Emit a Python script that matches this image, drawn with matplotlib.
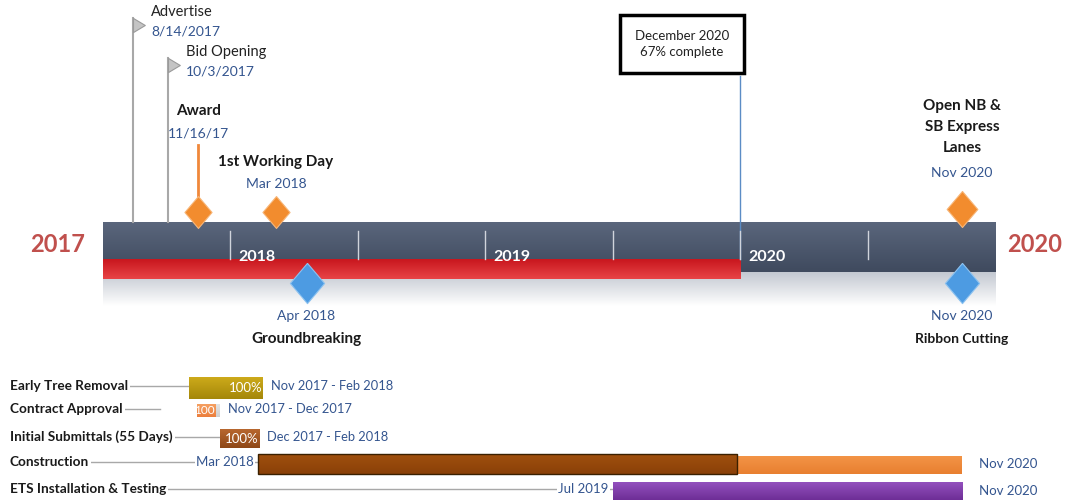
import matplotlib
matplotlib.use("Agg")
import matplotlib.pyplot as plt
import numpy as np
from matplotlib.patches import Rectangle
from matplotlib.colors import LinearSegmentedColormap

plt.rcParams['font.family'] = ['Lato', 'DejaVu Sans']

# ---- data (decimal years) ----
bar_start = 2017.5
bar_end = 2021.0
progress_date = 2020.0
half_year_ticks = [2018.0, 2018.5, 2019.0, 2019.5, 2020.0, 2020.5]
year_labels = ["2018", "2019", "2020"]
year_label_dates = [2018.0, 2019.0, 2020.0]
end_labels = ["2017", "2020"]

flag_names = ["Advertise", "Bid Opening"]
flag_dates = [2017.62, 2017.755]
flag_texts = ["8/14/2017", "10/3/2017"]

top_names = ["Award", "1st Working Day", "Open NB &\nSB Express\nLanes"]
top_dates = [2017.875, 2018.18, 2020.87]
top_texts = ["11/16/17", "Mar 2018", "Nov 2020"]

bottom_names = ["Groundbreaking", "Ribbon Cutting"]
bottom_dates = [2018.30, 2020.87]
bottom_texts = ["Apr 2018", "Nov 2020"]

status_lines = "December 2020\n67% complete"

tasks = ["Early Tree Removal", "Contract Approval", "Initial Submittals (55 Days)",
         "Construction", "ETS Installation & Testing"]
task_start = [2017.84, 2017.87, 2017.96, 2018.11, 2019.50]
task_done = [2018.13, 2017.945, 2018.115, 2019.99, 2019.50]
task_end = [2018.13, 2017.96, 2018.115, 2020.87, 2020.87]
task_pct = ["100%", "100", "100%", "", ""]
task_range = ["Nov 2017 - Feb 2018", "Nov 2017 - Dec 2017", "Dec 2017 - Feb 2018", "", ""]
task_from = ["", "", "", "Mar 2018", "Jul 2019"]
task_to = ["", "", "", "Nov 2020", "Nov 2020"]

# ---- style ----
done_cols = [("#CDAA1A", "#A4870A"), ("#F5A062", "#EC7E3C"), ("#B8672F", "#8E4818"),
             ("#A0500E", "#8A4008"), ("#9350BE", "#6E2E96")]
rest_cols = [None, ("#E4E4E4", "#CFCFCF"), None, ("#F39446", "#E87F30"), ("#9350BE", "#6E2E96")]
row_y = [388, 411, 439, 464, 491]
row_h = [22, 13, 19, 20, 18]
conn_end = [2017.84, 2017.725, 2017.96, 2018.11, 2019.50]
blue = "#34558F"
PX = 1 / 255.0   # one pixel in years


def grad_rect(ax, x0, x1, y0, y1, c1, c2, z=2):
    cmap = LinearSegmentedColormap.from_list("g", [c1, c2])
    g = np.linspace(0, 1, 64).reshape(-1, 1)
    ax.imshow(g, extent=(x0, x1, y1, y0), cmap=cmap, aspect='auto',
              zorder=z, interpolation='bicubic')


fig = plt.figure(figsize=(10.7, 5), dpi=100)
ax = fig.add_axes([0, 0, 1, 1])
ax.axis('off')

# main timeline bar
grad_rect(ax, bar_start, bar_end, 272, 306, "#C3C8D1", "#FFFFFF", z=1)
grad_rect(ax, bar_start, bar_end, 222, 272, "#5A667C", "#3F4A5E", z=2)
grad_rect(ax, bar_start, progress_date, 259, 279, "#C8161E", "#E84446", z=3)
for t in half_year_ticks:
    ax.plot([t, t], [231, 259], color="#D0D4DC", lw=1, zorder=4)
for d, lab in zip(year_label_dates, year_labels):
    ax.text(d + 8 * PX, 257, lab, color="white", fontsize=11.5, fontweight='bold',
            ha='left', va='center', zorder=5)
ax.text(bar_start - 45 * PX, 244, end_labels[0], color="#C0504D", fontsize=17,
        fontweight='bold', ha='center', va='center')
ax.text(bar_end + 40 * PX, 244, end_labels[1], color="#C0504D", fontsize=17,
        fontweight='bold', ha='center', va='center')

# progress line and status box
ax.plot([progress_date, progress_date], [76, 259], color="#5B8CC5", lw=1, zorder=3)
ax.text(progress_date - 58 * PX, 44, status_lines, fontsize=9.5, ha='center', va='center',
        linespacing=1.5, color="#222222",
        bbox=dict(boxstyle="square,pad=1.1", fc="white", ec="black", lw=2.5))

# flags
flag_shape = [(0, 0.6), (1, 0), (0, -0.6), (0, 0.6)]
for i, (d, name, txt) in enumerate(zip(flag_dates, flag_names, flag_texts)):
    top = 18 + 40 * i
    ax.plot([d, d], [top, 222], color="#A8A8A8", lw=1.5, zorder=2)
    ax.plot(d, top + 7, marker=flag_shape, ms=17, color="#C4C4C4",
            markeredgecolor="#9A9A9A", mew=0.8, zorder=3)
    ax.text(d + 18 * PX, top - 6, name, fontsize=10.5, ha='left', va='center', color="#222222")
    ax.text(d + 18 * PX, top + 14, txt, fontsize=10, ha='left', va='center', color=blue)

# top milestones (orange diamonds)
diamond = [(0, 1), (0.85, 0), (0, -1), (-0.85, 0), (0, 1)]
ax.plot([top_dates[0], top_dates[0]], [145, 205], color="#F0883A", lw=2, zorder=2)
name_y = [111, 162, 127]
date_y = [133, 184, 173]
dia_y = [212, 212, 209]
dia_ms = [23, 23, 26]
for d, name, txt, ny, dy, yy, ms in zip(top_dates, top_names, top_texts, name_y, date_y,
                                        dia_y, dia_ms):
    ax.plot(d, yy, marker=diamond, ms=ms, color="#F28C2E", markeredgecolor="#F7B77A",
            mew=0.8, zorder=6)
    ax.text(d, ny, name, fontsize=11, fontweight='bold', ha='center', va='center',
            linespacing=1.65, color="#1A1A1A")
    ax.text(d, dy, txt, fontsize=10, ha='center', va='center', color=blue)

# bottom milestones (blue diamonds)
for d, name, txt in zip(bottom_dates, bottom_names, bottom_texts):
    ax.plot(d, 283, marker=diamond, ms=29, color="#4D9BE2", markeredgecolor="#8CC2F0",
            mew=0.8, zorder=6)
    ax.text(d, 316, txt, fontsize=10, ha='center', va='center', color=blue)
    ax.text(d, 339, name, fontsize=11 if d < 2020 else 10, fontweight='bold',
            ha='center', va='center', color="#1A1A1A")

# gantt rows
for i, task in enumerate(tasks):
    y, h = row_y[i], row_h[i]
    ax.plot([2017.137, conn_end[i]], [y - 2, y - 2], color="#A8A8A8", lw=1, zorder=1)
    ax.text(2017.137, y - 2, task, fontsize=9.8, fontweight='bold', ha='left', va='center',
            color="#1A1A1A", zorder=3,
            bbox=dict(boxstyle="square,pad=0.15", fc="white", ec="none"))
    s, dn, e = task_start[i], task_done[i], task_end[i]
    if dn > s:
        grad_rect(ax, s, dn, y - h / 2, y + h / 2, *done_cols[i], z=2)
    if rest_cols[i] is not None and e > dn:
        grad_rect(ax, dn, e, y - h / 2 + (2 if i == 3 else 0), y + h / 2, *rest_cols[i], z=2)
    if i == 3:
        ax.add_patch(Rectangle((s, y - h / 2), dn - s, h, fill=False, ec="#3A2000",
                               lw=1, zorder=3))
    if task_pct[i]:
        ax.text(dn - 1 * PX, y, task_pct[i], fontsize=9.5 if i != 1 else 8.5, color="white",
                ha='right', va='center', zorder=4)
    if task_range[i]:
        ax.text(e + 8 * PX, y - 2, task_range[i], fontsize=9.3, color=blue,
                ha='left', va='center')
    if task_from[i]:
        ax.text(s - 4 * PX, y - 2, task_from[i], fontsize=9.5, color=blue, ha='right',
                va='center', zorder=3,
                bbox=dict(boxstyle="square,pad=0.1", fc="white", ec="none"))
        ax.text(e + 17 * PX, y, task_to[i], fontsize=9.5, color=blue, ha='left', va='center')

ax.set_xlim(2017.098, 2021.294)
ax.set_ylim(500, 0)

plt.savefig("out.png", dpi=100)
